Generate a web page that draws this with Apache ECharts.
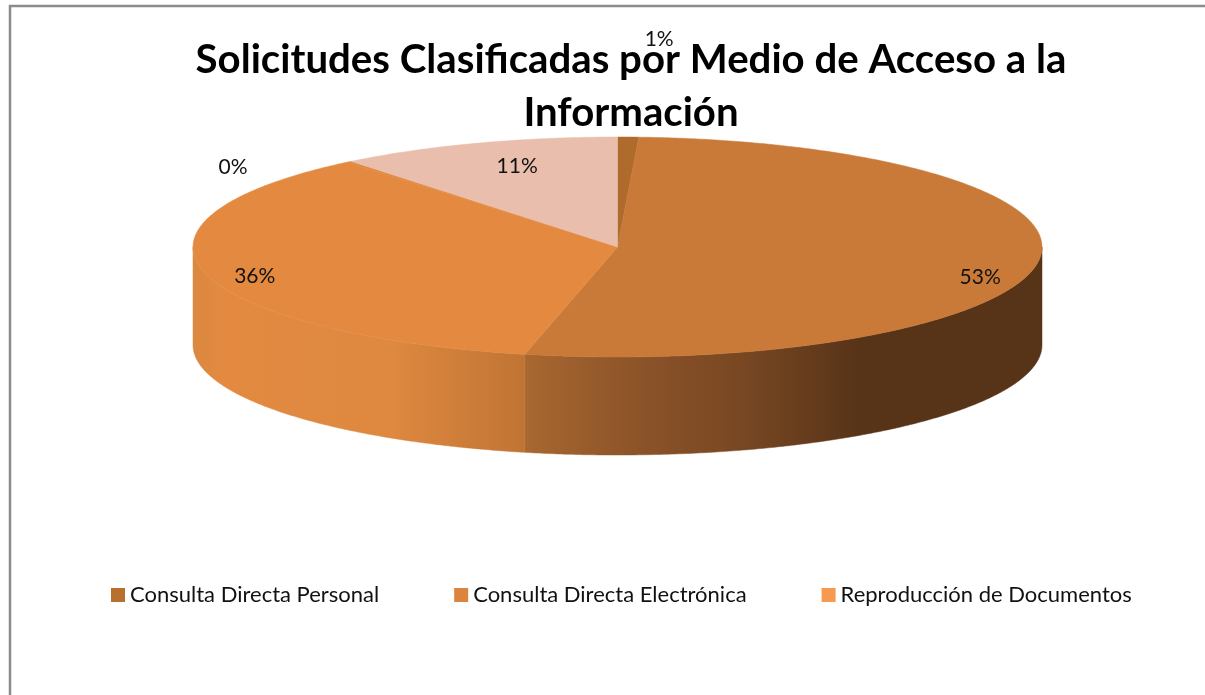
<!DOCTYPE html>
<html>
<head>
<meta charset="utf-8">
<title>Solicitudes Clasificadas</title>
<script src="https://cdn.jsdelivr.net/npm/echarts@6/dist/echarts.min.js"></script>
<style>
  html, body { margin: 0; padding: 0; background: #fff; }
  #chart { width: 1205px; height: 695px; }
</style>
</head>
<body>
<div id="chart"></div>
<script>
// datos
const categories = [
  "Consulta Directa Personal",
  "Consulta Directa Electrónica",
  "Reproducción de Documentos",
  "Categoría 4",
  "Categoría 5"
];
const values = [0.8, 52.7, 35.5, 0.2, 10.8];
const legendNames = categories.slice(0, 3);
const legendColors = ["#B8702F", "#DC843E", "#F79A4F"];
const topColors = ["#AE6B2C", "#C97A38", "#E38A40", "#E08A40", "#E9BEAC"];

// pie 3d: elipse superior y altura del cilindro
const cx = 617.5, cy = 247, rx = 424.5, ry = 110, depth = 98;
// ajuste de cada etiqueta respecto al punto medio del borde de su porcion
const labelNudge = [[31, -98], [-58, 15], [50, 4], [-116, 5], [41, 23]];

const total = values.reduce((a, b) => a + b, 0);
const starts = [];
values.reduce((acc, v, i) => {
  starts[i] = acc;
  return acc + (v / total) * 360;
}, 0);

function rim(deg, dy) {
  const r = (deg * Math.PI) / 180;
  return [cx + rx * Math.sin(r), cy - ry * Math.cos(r) + (dy || 0)];
}

function arcPoints(from, to, dy) {
  const pts = [];
  const n = Math.max(2, Math.ceil((to - from) * 2));
  for (let i = 0; i <= n; i++) pts.push(rim(from + ((to - from) * i) / n, dy));
  return pts;
}

function wallFill(i) {
  const gradient = (x, x2, stops) => ({
    type: "linear", global: true, x: x, y: 0, x2: x2, y2: 0,
    colorStops: stops
  });
  if (i === 1) {
    return gradient(525, 1042, [
      { offset: 0, color: "#A96830" },
      { offset: 0.145, color: "#955A2B" },
      { offset: 0.24, color: "#8A5228" },
      { offset: 0.435, color: "#764622" },
      { offset: 0.65, color: "#573318" },
      { offset: 1, color: "#573318" }
    ]);
  }
  return gradient(193, 525, [
    { offset: 0, color: "#DB8840" },
    { offset: 0.1, color: "#E38A40" },
    { offset: 0.6, color: "#DE8840" },
    { offset: 1, color: "#C07434" }
  ]);
}

function renderSlice(i) {
  return function () {
    const start = starts[i];
    const end = start + (values[i] / total) * 360;
    const children = [];

    // pared lateral, solo la mitad delantera
    const a = Math.max(start, 90), b = Math.min(end, 270);
    if (b > a) {
      const fill = wallFill(i);
      children.push({
        type: "polygon",
        shape: { points: arcPoints(a, b, 0).concat(arcPoints(a, b, depth).reverse()) },
        style: { fill: fill, stroke: fill, lineWidth: 0.5 }
      });
    }

    children.push({
      type: "polygon",
      shape: { points: [[cx, cy]].concat(arcPoints(start, end, 0)) },
      style: { fill: topColors[i], stroke: topColors[i], lineWidth: 0.5 }
    });

    const mid = rim((start + end) / 2, 0);
    children.push({
      type: "text",
      z2: 50,
      style: {
        x: mid[0] + labelNudge[i][0],
        y: mid[1] + labelNudge[i][1],
        text: Math.round((values[i] / total) * 100) + "%",
        fill: "#111",
        font: '21px Lato, sans-serif',
        align: "center",
        verticalAlign: "middle"
      }
    });
    return { type: "group", children: children };
  };
}

const chart = echarts.init(document.getElementById("chart"));
chart.setOption({
  animation: false,
  backgroundColor: "#fff",
  title: {
    text: "Solicitudes Clasificadas por Medio de Acceso a la\nInformación",
    left: 626,
    top: 29,
    textAlign: "center",
    textStyle: {
      fontFamily: "Lato, sans-serif",
      fontWeight: "bold",
      fontSize: 40.2,
      lineHeight: 53,
      color: "#000"
    }
  },
  legend: {
    left: 106,
    top: 579,
    icon: "rect",
    itemWidth: 14,
    itemHeight: 14,
    itemGap: 75,
    textStyle: { fontFamily: "Lato, sans-serif", fontSize: 22, color: "#111" },
    selectedMode: false,
    data: legendNames.map((name, i) => ({
      name: name,
      itemStyle: { color: legendColors[i] }
    }))
  },
  graphic: [
    {
      type: "polyline",
      silent: true,
      shape: { points: [[10, 695], [10, 6], [1205, 6]] },
      style: { fill: null, stroke: "#8C8C8C", lineWidth: 2.5 }
    }
  ],
  series: categories.map((name, i) => ({
    type: "custom",
    name: name,
    coordinateSystem: "none",
    silent: true,
    itemStyle: { color: topColors[i] },
    data: [[values[i]]],
    renderItem: renderSlice(i)
  }))
});
</script>
</body>
</html>
